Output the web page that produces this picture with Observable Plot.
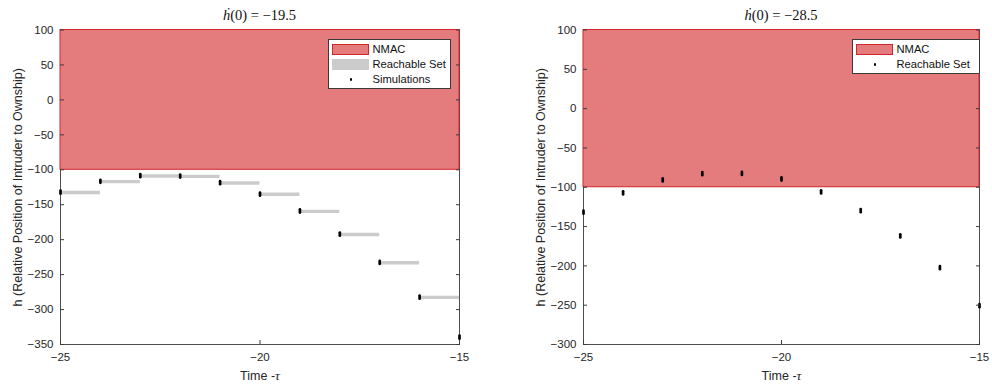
<!DOCTYPE html>
<html>
<head>
<meta charset="utf-8">
<script src="https://cdn.jsdelivr.net/npm/d3@7"></script>
<script src="https://cdn.jsdelivr.net/npm/@observablehq/plot@0.6"></script>
<style>
  body { margin: 0; background: #fff; }
  #wrap { position: relative; width: 992px; height: 385px; overflow: hidden; font-family: "Liberation Sans", Arial, Helvetica, sans-serif; }
  .panel { position: absolute; top: 0; width: 496px; height: 385px; }
  .title { height: 28px; line-height: 30px; text-align: center; font-family: "Liberation Serif", "Times New Roman", serif; font-size: 14.5px; color: #111; white-space: nowrap; }
  .title i { font-style: italic; }
  .legend { position: absolute; background: #fff; border: 1px solid #3a3a3a; box-sizing: border-box; font-size: 11.2px; color: #111; }
  .legend .sw { position: absolute; box-sizing: border-box; }
  .legend .lab { position: absolute; white-space: nowrap; }
  .legend .dot { position: absolute; width: 2.4px; height: 2.4px; border-radius: 1.2px; background: #000; }
  svg { display: block; }
</style>
</head>
<body>
<div id="wrap"></div>
<script>
// ---------------- data ----------------
const times = [-25, -24, -23, -22, -21, -20, -19, -18, -17, -16, -15];
const xDomain = [-25, -15];
const xTicks = [-25, -20, -15];

// left panel: hdot(0) = -19.5
const leftTitle = "\u2212" + "19.5";
const leftSim = [-132, -116.5, -108.5, -109, -118.5, -134.8, -159, -192, -232.6, -282.2, -339.5];
const leftReach = [-132.5, -117, -109, -109.5, -119, -135, -159.5, -192.5, -233, -282.5];
const leftYDomain = [-350, 100];
const leftYTicks = [100, 50, 0, -50, -100, -150, -200, -250, -300, -350];

// right panel: hdot(0) = -28.5
const rightTitle = "\u2212" + "28.5";
const rightReach = [-131.8, -107.2, -90.7, -82.7, -82.3, -89.5, -105.9, -129.7, -161.9, -202.2, -250.5];
const rightYDomain = [-300, 100];
const rightYTicks = [100, 50, 0, -50, -100, -150, -200, -250, -300];

// NMAC band
const nmacLow = -100;
const nmacHigh = 100;

const yLabel = "h (Relative Position of Intruder to Ownship)";
const xLabel = "Time -";

// -------------- styles ---------------
const RED_FILL = "#e47c7e";
const RED_EDGE = "#d3262c";
const GRAY = "#cbcbcb";
const AX = "#3c3c3c";
const FONT = "\"Liberation Sans\", Arial, Helvetica, sans-serif";

// vertical capsule marker
const capsule = {
  draw(context) {
    const w = 1.35, h = 2.9;
    context.moveTo(w, -h + w);
    context.arc(0, -h + w, w, 0, Math.PI, true);
    context.lineTo(-w, h - w);
    context.arc(0, h - w, w, Math.PI, 0, true);
    context.closePath();
  }
};

function makePlot({yDomain, yTicks, sims, bars, marginLeft, marginRight}) {
  const simData = times.map((t, i) => ({t, h: sims[i]}));
  const barData = bars ? bars.map((h, i) => ({t1: times[i], t2: times[i + 1], h})) : [];
  const band = [{x1: xDomain[0], x2: xDomain[1], y1: nmacLow, y2: nmacHigh}];
  const svg = Plot.plot({
    width: 496,
    height: 357,
    marginTop: 1.5,
    marginBottom: 41,
    marginLeft,
    marginRight,
    x: {domain: xDomain},
    y: {domain: yDomain},
    style: {fontFamily: FONT, fontSize: "11px", color: "#262626", background: "transparent", overflow: "visible"},
    marks: [
      Plot.frame({stroke: AX, strokeWidth: 0.9}),
      Plot.rect(band, {x1: "x1", x2: "x2", y1: "y1", y2: "y2", fill: RED_FILL, stroke: RED_EDGE, strokeWidth: 1}),
      Plot.ruleY(barData, {x1: "t1", x2: "t2", y: "h", stroke: GRAY, strokeWidth: 3.4}),
      Plot.dot(simData, {x: "t", y: "h", symbol: capsule, fill: "#000", stroke: null}),
      // inward ticks (box on)
      Plot.axisY(yTicks, {anchor: "left", tickSize: -4, tickFormat: () => "", label: null, stroke: AX}),
      Plot.axisY(yTicks, {anchor: "right", tickSize: -4, tickFormat: () => "", label: null, stroke: AX}),
      Plot.axisX(xTicks, {anchor: "bottom", tickSize: -4, tickFormat: () => "", label: null, stroke: AX}),
      // labels
      Plot.axisY(yTicks, {anchor: "left", tickSize: 0, tickPadding: 7, label: null, fontSize: 11.5}),
      Plot.axisX(xTicks, {anchor: "bottom", tickSize: 0, tickPadding: 8.5, label: null, fontSize: 11.5}),
      Plot.text([yLabel], {text: d => d, frameAnchor: "left", rotate: -90, dx: -43, fontSize: 12.5, textAnchor: "middle", lineAnchor: "middle", fill: "#262626"}),
      Plot.text([xLabel], {text: d => d, frameAnchor: "bottom", dy: 31, fontSize: 12.5, textAnchor: "middle", lineAnchor: "middle", fill: "#262626", className: "xlab"})
    ]
  });
  // italic tau in x label
  d3.select(svg).selectAll(".xlab text").each(function() {
    const t = d3.select(this);
    t.text(null);
    t.append("tspan").text(xLabel);
    t.append("tspan").attr("font-family", "\"Liberation Serif\", serif").attr("font-style", "italic").attr("font-size", 13.5).text("\u03C4");
  });
  return svg;
}

function makeLegend(entries, {left, top, width}) {
  const lg = document.createElement("div");
  lg.className = "legend";
  lg.style.left = left + "px";
  lg.style.top = top + "px";
  lg.style.width = width + "px";
  lg.style.height = (entries.length * 15 + 5) + "px";
  entries.forEach((e, i) => {
    const rowTop = 2 + i * 15;
    if (e.type === "patch") {
      const sw = document.createElement("div");
      sw.className = "sw";
      sw.style.left = "3px";
      sw.style.top = (rowTop + 2) + "px";
      sw.style.width = "37px";
      sw.style.height = "11px";
      sw.style.background = e.fill;
      sw.style.border = e.edge ? ("1px solid " + e.edge) : "none";
      lg.appendChild(sw);
    } else {
      const d = document.createElement("div");
      d.className = "dot";
      d.style.left = "20.5px";
      d.style.top = (rowTop + 6.3) + "px";
      lg.appendChild(d);
    }
    const lab = document.createElement("div");
    lab.className = "lab";
    lab.style.left = "43.5px";
    lab.style.top = rowTop + "px";
    lab.style.lineHeight = "15px";
    lab.textContent = e.label;
    lg.appendChild(lab);
  });
  return lg;
}

function makePanel({left, titleValue, plot, legend, marginLeft, plotWidth}) {
  const p = document.createElement("div");
  p.className = "panel";
  p.style.left = left + "px";
  const t = document.createElement("div");
  t.className = "title";
  t.style.marginLeft = marginLeft + "px";
  t.style.width = plotWidth + "px";
  t.innerHTML = "<i>\u1E23</i>(0) = " + titleValue;
  p.appendChild(t);
  p.appendChild(plot);
  p.appendChild(legend);
  return p;
}

const wrap = document.getElementById("wrap");

const leftPlot = makePlot({yDomain: leftYDomain, yTicks: leftYTicks, sims: leftSim, bars: leftReach, marginLeft: 60, marginRight: 37});
const leftLegend = makeLegend([
  {type: "patch", fill: RED_FILL, edge: RED_EDGE, label: "NMAC"},
  {type: "patch", fill: GRAY, edge: null, label: "Reachable Set"},
  {type: "dot", label: "Simulations"}
], {left: 328, top: 39, width: 123});
wrap.appendChild(makePanel({left: 0, titleValue: leftTitle, plot: leftPlot, legend: leftLegend, marginLeft: 60, plotWidth: 399}));

const rightPlot = makePlot({yDomain: rightYDomain, yTicks: rightYTicks, sims: rightReach, bars: null, marginLeft: 87, marginRight: 13});
const rightLegend = makeLegend([
  {type: "patch", fill: RED_FILL, edge: RED_EDGE, label: "NMAC"},
  {type: "dot", label: "Reachable Set"}
], {left: 356, top: 39, width: 128});
wrap.appendChild(makePanel({left: 496, titleValue: rightTitle, plot: rightPlot, legend: rightLegend, marginLeft: 87, plotWidth: 396}));
</script>
</body>
</html>
